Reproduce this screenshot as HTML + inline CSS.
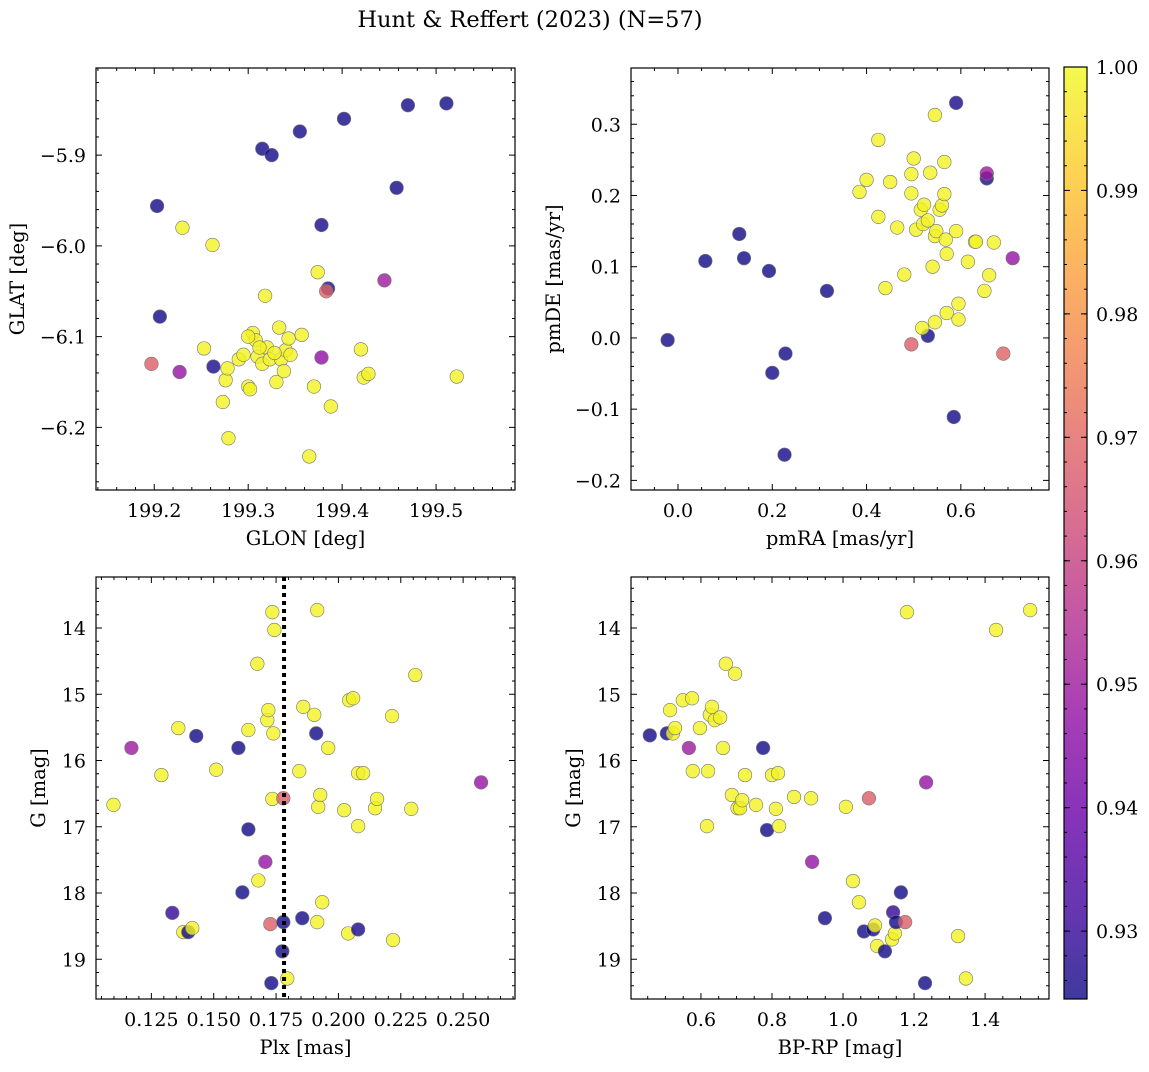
<!DOCTYPE html>
<html><head><meta charset="utf-8"><style>
body{margin:0;background:#fff}
svg text{font-family:"DejaVu Serif","Liberation Serif",serif;fill:#000}
</style></head><body>
<svg id="fig" width="1149" height="1067" xmlns="http://www.w3.org/2000/svg">
<text x="530" y="27" font-size="22.5" text-anchor="middle">Hunt &amp; Reffert (2023) (N=57)</text>
</svg>
<script>
// ---- data ----
const p1Glon=[199.203,199.206,199.315,199.325,199.355,199.378,199.385,199.402,199.458,199.470,199.511,199.263,199.227,199.378,199.445,199.197,199.383,199.230,199.262,199.253,199.279,199.273,199.276,199.278,199.290,199.300,199.302,199.305,199.308,199.310,199.315,199.318,199.320,199.323,199.330,199.333,199.335,199.338,199.340,199.343,199.345,199.357,199.365,199.370,199.374,199.388,199.420,199.423,199.428,199.522,199.295,199.300,199.328,199.312];
const p1Glat=[-5.956,-6.078,-5.893,-5.900,-5.874,-5.977,-6.047,-5.860,-5.936,-5.845,-5.843,-6.133,-6.139,-6.123,-6.038,-6.130,-6.050,-5.980,-5.999,-6.113,-6.212,-6.172,-6.148,-6.135,-6.125,-6.155,-6.158,-6.096,-6.104,-6.122,-6.130,-6.055,-6.112,-6.125,-6.150,-6.090,-6.125,-6.138,-6.115,-6.102,-6.120,-6.098,-6.232,-6.155,-6.029,-6.177,-6.114,-6.145,-6.141,-6.144,-6.120,-6.100,-6.118,-6.112];
const p1Prob=[0.925,0.925,0.925,0.925,0.925,0.926,0.926,0.925,0.925,0.925,0.925,0.926,0.948,0.947,0.950,0.968,0.969,0.999,0.999,0.999,0.999,0.999,0.999,0.999,0.999,0.999,0.999,0.999,0.999,0.999,0.999,0.999,0.999,0.999,0.999,0.999,0.999,0.999,0.999,0.999,0.999,0.999,0.999,0.999,0.999,0.999,0.999,0.999,0.999,0.999,0.999,0.999,0.999,0.999];

const p2Pmra=[-0.022,0.058,0.130,0.140,0.193,0.200,0.228,0.226,0.316,0.530,0.585,0.590,0.655,0.655,0.710,0.495,0.690,0.385,0.400,0.425,0.425,0.440,0.450,0.465,0.480,0.495,0.495,0.500,0.505,0.515,0.518,0.520,0.522,0.530,0.535,0.540,0.545,0.545,0.545,0.548,0.555,0.560,0.565,0.565,0.568,0.570,0.570,0.590,0.595,0.595,0.615,0.630,0.632,0.650,0.660,0.670];
const p2Pmde=[-0.003,0.108,0.146,0.112,0.094,-0.049,-0.022,-0.164,0.066,0.003,-0.111,0.330,0.224,0.231,0.112,-0.009,-0.022,0.205,0.222,0.278,0.170,0.070,0.219,0.155,0.089,0.203,0.230,0.252,0.152,0.180,0.014,0.160,0.187,0.165,0.232,0.100,0.313,0.143,0.022,0.150,0.180,0.186,0.247,0.202,0.138,0.118,0.035,0.150,0.048,0.026,0.107,0.135,0.135,0.066,0.088,0.134];
const p2Prob=[0.925,0.925,0.925,0.925,0.925,0.925,0.925,0.925,0.925,0.925,0.925,0.926,0.926,0.950,0.948,0.968,0.969,0.999,0.999,0.999,0.999,0.999,0.999,0.999,0.999,0.999,0.999,0.999,0.999,0.999,0.999,0.999,0.999,0.999,0.999,0.999,0.999,0.999,0.999,0.999,0.999,0.999,0.999,0.999,0.999,0.999,0.999,0.999,0.999,0.999,0.999,0.999,0.999,0.999,0.999,0.999];

const p3Plx=[0.1170,0.1098,0.1290,0.1358,0.1334,0.1378,0.1398,0.1414,0.1430,0.1510,0.1599,0.1615,0.1639,0.1639,0.1675,0.1679,0.1707,0.1715,0.1719,0.1727,0.1735,0.1735,0.1739,0.1743,0.1779,0.1779,0.1775,0.1795,0.1731,0.1843,0.1855,0.1859,0.1903,0.1911,0.1915,0.1919,0.1927,0.1915,0.1935,0.1959,0.2023,0.2039,0.2043,0.2059,0.2079,0.2079,0.2079,0.2099,0.2147,0.2155,0.2215,0.2219,0.2292,0.2308,0.2572];
const p3G=[15.81,16.67,16.22,15.51,18.30,18.59,18.59,18.53,15.63,16.14,15.81,17.99,15.54,17.04,14.54,17.81,17.53,15.39,15.24,18.47,13.76,16.58,15.59,14.03,16.57,18.44,18.88,19.29,19.36,16.16,18.38,15.19,15.31,15.59,13.73,16.70,16.52,18.44,18.14,15.81,16.75,18.61,15.09,15.06,16.19,18.55,16.99,16.19,16.72,16.58,15.33,18.71,16.73,14.71,16.33];
const p3Prob=[0.950,0.999,0.999,0.999,0.930,0.999,0.925,0.999,0.925,0.999,0.925,0.925,0.999,0.925,0.999,0.999,0.948,0.999,0.999,0.968,0.999,0.999,0.999,0.999,0.968,0.925,0.925,0.999,0.925,0.999,0.925,0.999,0.999,0.925,0.999,0.999,0.999,0.999,0.999,0.999,0.999,0.999,0.999,0.999,0.999,0.926,0.999,0.999,0.999,0.999,0.999,0.999,0.999,0.999,0.948];
const p3Ref=0.1782;

const p4Bprp=[0.456,0.504,0.566,0.513,0.521,0.527,0.549,0.575,0.597,0.577,0.620,0.617,0.625,0.631,0.639,0.654,0.670,0.696,0.662,0.687,0.703,0.710,0.716,0.724,0.755,0.775,0.786,0.800,0.817,0.811,0.820,0.862,0.910,0.913,0.949,1.008,1.028,1.073,1.045,1.059,1.085,1.090,1.096,1.118,1.138,1.146,1.141,1.149,1.175,1.163,1.234,1.180,1.324,1.231,1.346,1.431,1.527];
const p4G=[15.62,15.59,15.81,15.24,15.59,15.51,15.09,15.06,15.51,16.16,16.16,16.99,15.31,15.19,15.39,15.35,14.54,14.69,15.81,16.52,16.72,16.72,16.60,16.22,16.67,15.81,17.05,16.22,16.19,16.73,16.99,16.55,16.57,17.53,18.38,16.70,17.82,16.57,18.14,18.58,18.55,18.49,18.80,18.88,18.70,18.61,18.29,18.44,18.44,17.99,16.33,13.76,18.65,19.36,19.29,14.03,13.73];
const p4Prob=[0.925,0.925,0.950,0.999,0.999,0.999,0.999,0.999,0.999,0.999,0.999,0.999,0.999,0.999,0.999,0.999,0.999,0.999,0.999,0.999,0.999,0.999,0.999,0.999,0.999,0.925,0.925,0.999,0.999,0.999,0.999,0.999,0.999,0.948,0.925,0.999,0.999,0.968,0.999,0.925,0.925,0.999,0.999,0.925,0.999,0.999,0.930,0.925,0.968,0.925,0.948,0.999,0.999,0.925,0.999,0.999,0.999];

const cbTicks=[0.93,0.94,0.95,0.96,0.97,0.98,0.99,1.00];
const cbMin=0.9245, cbMax=1.0;

// ---- helpers ----
const NS='http://www.w3.org/2000/svg';
const svg=document.getElementById('fig');
function mk(tag,attrs,parent){const e=document.createElementNS(NS,tag);for(const k in attrs)e.setAttribute(k,attrs[k]);(parent||svg).appendChild(e);return e;}
const stops=['#0d0887','#41049d','#6a00a8','#8f0da4','#b12a90','#cc4778','#e16462','#f2844b','#fca636','#fcce25','#f0f921'];
function hex(h){return [1,3,5].map(i=>parseInt(h.substr(i,2),16));}
function plasma(t){t=Math.max(0,Math.min(1,t));const s=t*10,i=Math.min(9,Math.floor(s)),f=s-i;const a=hex(stops[i]),b=hex(stops[i+1]);return 'rgb('+a.map((v,k)=>Math.round(v+(b[k]-v)*f)).join(',')+')';}
function col(p){return plasma((p-cbMin)/(cbMax-cbMin));}
function fmt(v,d){return (v<0?'\u2212':'')+Math.abs(v).toFixed(d);}
const TF=19, LF=19.5;

function panel(o){
  const g=mk('g',{});
  
  
  const sx=v=>o.x0+(v-o.xmin)/(o.xmax-o.xmin)*(o.x1-o.x0);
  const sy=v=>o.inv? o.y0+(v-o.ymin)/(o.ymax-o.ymin)*(o.y1-o.y0) : o.y1-(v-o.ymin)/(o.ymax-o.ymin)*(o.y1-o.y0);
  for(let i=0;i<o.xs.length;i++){
    const c=mk('circle',{cx:sx(o.xs[i]),cy:sy(o.ys[i]),r:6.8,fill:col(o.ps[i]),'fill-opacity':0.8,stroke:'#777','stroke-width':0.6},g);
    
    
  }
  if(o.vline!==undefined){
    const l=mk('line',{x1:sx(o.vline),x2:sx(o.vline),y1:o.y0,y2:o.y1,stroke:'#000','stroke-width':4,'stroke-dasharray':'4,4'},g);
    
    
  }
  const ax=mk('rect',{x:o.x0,y:o.y0,width:o.x1-o.x0,height:o.y1-o.y0,fill:'none',stroke:'#000','stroke-width':1.2},g);
  
  
  const e=1e-9;
  for(let v=Math.ceil(o.xmin/o.xmi)*o.xmi;v<=o.xmax+e;v+=o.xmi){
    const X=sx(v);const maj=Math.abs(v/o.xma-Math.round(v/o.xma))<1e-4;const L=maj?6:3;
    mk('line',{x1:X,x2:X,y1:o.y1,y2:o.y1-L,stroke:'#000','stroke-width':1},g);
    mk('line',{x1:X,x2:X,y1:o.y0,y2:o.y0+L,stroke:'#000','stroke-width':1},g);
    if(maj){const t=mk('text',{x:X,y:o.y1+27,'font-size':TF,'text-anchor':'middle'},g);t.textContent=fmt(Math.round(v/o.xma)*o.xma,o.xd);
      }
  }
  for(let v=Math.ceil(o.ymin/o.ymi)*o.ymi;v<=o.ymax+e;v+=o.ymi){
    const Y=sy(v);const maj=Math.abs(v/o.yma-Math.round(v/o.yma))<1e-4;const L=maj?6:3;
    mk('line',{x1:o.x0,x2:o.x0+L,y1:Y,y2:Y,stroke:'#000','stroke-width':1},g);
    mk('line',{x1:o.x1,x2:o.x1-L,y1:Y,y2:Y,stroke:'#000','stroke-width':1},g);
    if(maj){const t=mk('text',{x:o.x0-10,y:Y+7,'font-size':TF,'text-anchor':'end'},g);t.textContent=fmt(Math.round(v/o.yma)*o.yma,o.yd);
      }
  }
  const xl=mk('text',{x:(o.x0+o.x1)/2,y:o.y1+55,'font-size':LF,'text-anchor':'middle'},g);xl.textContent=o.xlabel;
  
  const yx=o.ylx,yy=(o.y0+o.y1)/2;
  const yl=mk('text',{x:yx,y:yy,'font-size':LF,'text-anchor':'middle',transform:'rotate(-90 '+yx+' '+yy+')'},g);yl.textContent=o.ylabel;
  
}

panel({name:'glon-glat-panel',x0:96,x1:515,y0:68,y1:490,xmin:199.138,xmax:199.584,ymin:-6.269,ymax:-5.804,xma:0.1,xmi:0.02,xd:1,yma:0.1,ymi:0.02,yd:1,xs:p1Glon,ys:p1Glat,ps:p1Prob,xlabel:'GLON [deg]',ylabel:'GLAT [deg]',ylx:24});
panel({name:'proper-motion-panel',x0:631,x1:1049,y0:68,y1:490,xmin:-0.0997,xmax:0.787,ymin:-0.2135,ymax:0.379,xma:0.2,xmi:0.05,xd:1,yma:0.1,ymi:0.02,yd:1,xs:p2Pmra,ys:p2Pmde,ps:p2Prob,xlabel:'pmRA [mas/yr]',ylabel:'pmDE [mas/yr]',ylx:560});
panel({name:'parallax-magnitude-panel',x0:96,x1:515,y0:577,y1:999,xmin:0.1028,xmax:0.2708,ymin:13.23,ymax:19.60,inv:true,xma:0.025,xmi:0.005,xd:3,yma:1,ymi:0.2,yd:0,xs:p3Plx,ys:p3G,ps:p3Prob,vline:p3Ref,xlabel:'Plx [mas]',ylabel:'G [mag]',ylx:45});
panel({name:'color-magnitude-panel',x0:631,x1:1049,y0:577,y1:999,xmin:0.403,xmax:1.580,ymin:13.23,ymax:19.60,inv:true,xma:0.2,xmi:0.05,xd:1,yma:1,ymi:0.2,yd:0,xs:p4Bprp,ys:p4G,ps:p4Prob,xlabel:'BP-RP [mag]',ylabel:'G [mag]',ylx:580});

(function(){
  const x0=1064,x1=1087,y0=67,y1=999;
  const g=mk('g',{});
  
  
  const defs=mk('defs',{},g);
  const lg=mk('linearGradient',{id:'cbg',x1:0,y1:1,x2:0,y2:0},defs);
  stops.forEach((s,i)=>mk('stop',{offset:i/10,'stop-color':s,'stop-opacity':0.8},lg));
  mk('rect',{x:x0,y:y0,width:x1-x0,height:y1-y0,fill:'url(#cbg)',stroke:'#000','stroke-width':1.2},g);
  const sy=v=>y1-(v-cbMin)/(cbMax-cbMin)*(y1-y0);
  for(let v=0.926;v<=1.0001;v+=0.002){const Y=sy(v);mk('line',{x1:x1,x2:x1-3,y1:Y,y2:Y,stroke:'#000'},g);mk('line',{x1:x0,x2:x0+3,y1:Y,y2:Y,stroke:'#000'},g);}
  cbTicks.forEach(v=>{const Y=sy(v);mk('line',{x1:x1,x2:x1-6,y1:Y,y2:Y,stroke:'#000'},g);mk('line',{x1:x0,x2:x0+6,y1:Y,y2:Y,stroke:'#000'},g);
    const t=mk('text',{x:x1+9,y:Y+7,'font-size':TF},g);t.textContent=v.toFixed(2);
    });
})();
</script>
</body></html>
